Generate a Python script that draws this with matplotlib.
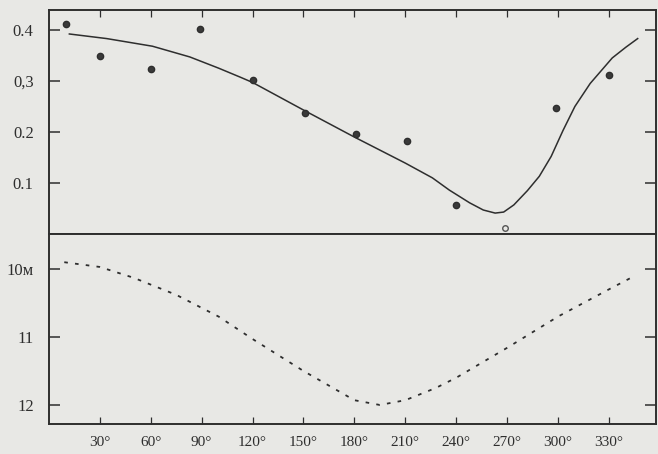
import matplotlib.pyplot as plt

# Точки наблюдений (верхняя панель)
obs_deg = [10, 30, 60, 89, 120, 151, 181, 211, 240, 269, 299, 330]
obs_val = [0.412, 0.349, 0.324, 0.402, 0.302, 0.237, 0.196, 0.182, 0.057, 0.012, 0.247, 0.312]

# Сглаженная кривая (верхняя панель)
curve_deg = [12, 34, 61, 83, 100, 113, 120, 150, 180, 210, 226, 236, 248, 256, 263,
             268, 274, 282, 289, 296, 303, 310, 319, 332, 340, 347]
curve_val = [0.392, 0.383, 0.368, 0.347, 0.325, 0.307, 0.297, 0.243, 0.19, 0.139,
             0.11, 0.086, 0.061, 0.047, 0.041, 0.043, 0.057, 0.085, 0.113, 0.152,
             0.203, 0.25, 0.295, 0.345, 0.366, 0.383]

# Пунктирная кривая (нижняя панель, глубина в метрах)
depth_deg = [9, 30, 50, 75, 100, 120, 150, 180, 195, 210, 228, 240, 270, 300, 330, 343]
depth_val = [9.9, 9.97, 10.13, 10.38, 10.7, 11.03, 11.5, 11.93, 12.0, 11.93, 11.75,
             11.6, 11.16, 10.7, 10.3, 10.13]

x_ticks = [30, 60, 90, 120, 150, 180, 210, 240, 270, 300, 330]
x_labels = ['30°', '60°', '90°', '120°', '150°', '180°', '210°', '240°', '270°', '300°', '330°']
top_ticks = [0.1, 0.2, 0.3, 0.4]
top_labels = ['0.1', '0.2', '0,3', '0.4']
low_ticks = [10, 11, 12]
low_labels = ['10м', '11', '12']

paper = '#e8e8e5'
ink = '#2e2e2e'
plt.rcParams['font.family'] = ['Liberation Serif', 'DejaVu Serif']

fig = plt.figure(figsize=(6.58, 4.54), dpi=100, facecolor=paper)
W, H = 658.0, 454.0
x0, x1 = 49 / W, 656 / W
ax1 = fig.add_axes([x0, (H - 234) / H, x1 - x0, 224 / H], facecolor=paper)
ax2 = fig.add_axes([x0, (H - 424) / H, x1 - x0, 190 / H], facecolor=paper, sharex=ax1)

ax1.plot(curve_deg, curve_val, color=ink, lw=1.1)
ax1.plot(obs_deg[:9] + obs_deg[10:], obs_val[:9] + obs_val[10:], 'o', color=ink,
         ms=4.5, mfc='#3a3a3a')
ax1.plot(obs_deg[9:10], obs_val[9:10], 'o', color='#555555', ms=4, mfc='none', mew=1)
ax1.set_ylim(0, 0.439)
ax1.set_yticks(top_ticks)
ax1.set_yticklabels(top_labels)

ax2.plot(depth_deg, depth_val, color=ink, lw=1.3, linestyle=(0, (2, 4)))
ax2.set_ylim(12.28, 9.485)
ax2.set_yticks(low_ticks)
ax2.set_yticklabels(low_labels)

ax1.set_xlim(0, 357.8)
ax2.set_xticks(x_ticks)
ax2.set_xticklabels(x_labels)

for ax in (ax1, ax2):
    for s in ax.spines.values():
        s.set_color(ink)
        s.set_linewidth(1.4)
    ax.tick_params(axis='y', direction='in', length=8, width=1.1, colors=ink,
                   labelsize=12, pad=11, right=True)
    ax.tick_params(axis='x', direction='in', length=5, width=0.9, colors=ink,
                   labelsize=11, pad=9)
ax1.tick_params(axis='x', top=True, bottom=False, labelbottom=False)
ax2.tick_params(axis='x', top=False, bottom=True)

fig.savefig('out.png', dpi=100, facecolor=paper)
